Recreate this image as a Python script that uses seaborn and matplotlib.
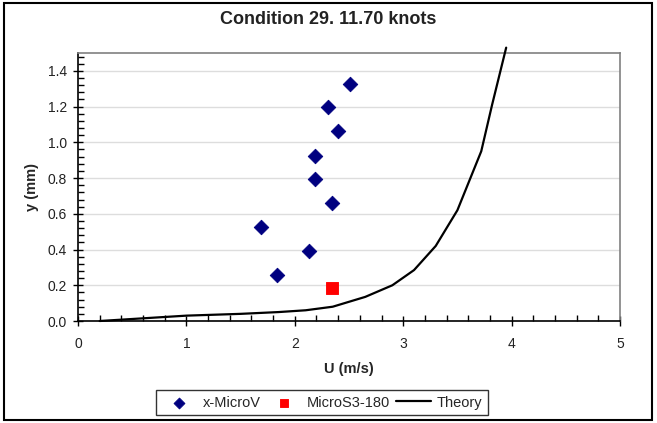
import pandas as pd
import matplotlib.pyplot as plt
import seaborn as sns
from matplotlib.patches import Rectangle
from matplotlib.ticker import MultipleLocator

# x-MicroV measurements
microv_u = [2.51, 2.31, 2.40, 2.19, 2.19, 2.34, 1.69, 2.13, 1.84]
microv_y = [1.326, 1.195, 1.063, 0.922, 0.792, 0.658, 0.526, 0.394, 0.260]

# MicroS3-180 measurement
micros3_u = [2.34]
micros3_y = [0.184]

# Theory profile
theory_u = [0.2, 0.6, 1.0, 1.5, 1.85, 2.1, 2.35, 2.65, 2.9, 3.1, 3.3, 3.5, 3.72, 3.82, 3.95]
theory_y = [0.0, 0.015, 0.03, 0.04, 0.05, 0.06, 0.08, 0.135, 0.2, 0.285, 0.42, 0.62, 0.95, 1.21, 1.53]

df_microv = pd.DataFrame({'U': microv_u, 'y': microv_y})
df_micros3 = pd.DataFrame({'U': micros3_u, 'y': micros3_y})
df_theory = pd.DataFrame({'U': theory_u, 'y': theory_y})

sns.set_style('white')
plt.rcParams['font.family'] = ['Liberation Sans', 'DejaVu Sans']

fig = plt.figure(figsize=(6.57, 4.23), dpi=100)
ax = fig.add_axes([78 / 657, 1 - 321 / 423, 542 / 657, 268 / 423])

sns.lineplot(data=df_theory, x='U', y='y', ax=ax, color='black', linewidth=1.6,
             sort=False, estimator=None, label='Theory', clip_on=False, zorder=3)
sns.scatterplot(data=df_microv, x='U', y='y', ax=ax, marker='D', s=55, color='#000080',
                edgecolor='#000080', label='x-MicroV', zorder=4)
sns.scatterplot(data=df_micros3, x='U', y='y', ax=ax, marker='s', s=65, color='#ff0000',
                edgecolor='#ff0000', label='MicroS3-180', zorder=4)

ax.set_xlim(0, 5)
ax.set_ylim(0, 1.5)
ax.set_xticks([0, 1, 2, 3, 4, 5])
ax.set_yticks([0.0, 0.2, 0.4, 0.6, 0.8, 1.0, 1.2, 1.4])
ax.set_yticklabels([f'{v:.1f}' for v in ax.get_yticks()])
ax.xaxis.set_minor_locator(MultipleLocator(0.2))
ax.yaxis.set_minor_locator(MultipleLocator(0.04))
ax.tick_params(axis='both', which='major', direction='inout', length=7, width=1,
               color='black', labelsize=10, bottom=True, left=True)
ax.tick_params(axis='x', which='major', pad=8, labelcolor='#222222')
ax.tick_params(axis='y', which='major', pad=4.5, labelcolor='#222222')
ax.tick_params(axis='both', which='minor', direction='in', length=4, width=1,
               color='black', bottom=True, left=True)
ax.grid(axis='y', color='#dddddd', linewidth=1)
ax.set_axisbelow(True)

for side in ['top', 'right']:
    ax.spines[side].set_color('#808080')
    ax.spines[side].set_linewidth(1.2)
for side in ['left', 'bottom']:
    ax.spines[side].set_color('black')
    ax.spines[side].set_linewidth(1.2)

ax.set_xlabel('U (m/s)', fontsize=10.5, fontweight='bold', labelpad=8)
ax.set_ylabel('y (mm)', fontsize=10.5, fontweight='bold', labelpad=6)

fig.text(0.5, 1 - 20 / 423, 'Condition 29. 11.70 knots', ha='center', va='center',
         fontsize=13, fontweight='bold', color='#222222')

handles, labels = ax.get_legend_handles_labels()
order = [labels.index('x-MicroV'), labels.index('MicroS3-180'), labels.index('Theory')]
ax.get_legend().remove()
leg = fig.legend([handles[i] for i in order], [labels[i] for i in order],
                 loc='center', bbox_to_anchor=(322 / 657, 1 - 402.5 / 423), ncol=3,
                 fontsize=10.5, frameon=True, fancybox=False, edgecolor='black',
                 handlelength=2.4, markerscale=0.75, columnspacing=0.4, borderpad=0.4,
                 handletextpad=0.38)
leg.get_frame().set_linewidth(1)

fig.patches.append(Rectangle((4 / 657, 3 / 423), 648 / 657, 417 / 423, transform=fig.transFigure,
                             fill=False, edgecolor='black', linewidth=1.5))

fig.savefig('out.png', dpi=100)
